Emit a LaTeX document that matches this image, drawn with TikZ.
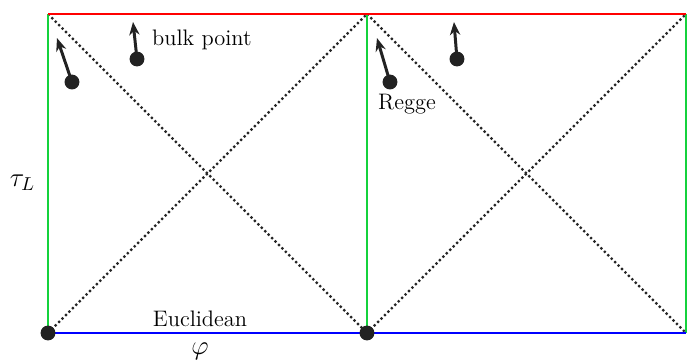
\documentclass[tikz,border=0pt]{standalone}
\usepackage{xcolor}
\usepackage{amsmath}
\usepackage{tikz}
\usetikzlibrary{arrows.meta, positioning, calc}

\definecolor{edgegreen}{RGB}{20,210,60}
\definecolor{dotgray}{RGB}{34,34,34}

\begin{document}
\begin{tikzpicture}[
    >={Stealth[length=7pt, width=5.5pt]},
    bpoint/.style={circle, fill=dotgray, inner sep=0pt, minimum size=0.28cm},
    flow/.style={->, line width=1.6pt, dotgray, shorten <=-2pt},
    lightcone/.style={line width=1.2pt, dash pattern=on 1.2pt off 1.4pt, black!85},
    lbl/.style={font=\large, inner sep=1pt}
]
\useasboundingbox (-0.903,-0.564) rectangle (12.02,6.264);
% corners of the two squares
\coordinate (bl) at (0,0);
\coordinate (bm) at (6,0);
\coordinate (br) at (12,0);
\coordinate (tl) at (0,6);
\coordinate (tm) at (6,6);
\coordinate (tr) at (12,6);
% light cones
\draw[lightcone] (bl) -- (tm);
\draw[lightcone] (tl) -- (bm);
\draw[lightcone] (bm) -- (tr);
\draw[lightcone] (tm) -- (br);
% boundaries
\draw[line width=1.2pt, edgegreen] (bl) -- (tl);
\draw[line width=1.2pt, edgegreen] (bm) -- (tm);
\draw[line width=1.2pt, edgegreen] (br) -- (tr);
\draw[line width=1.2pt, red] (tl) -- (tr);
\draw[line width=1.2pt, blue] (bl) -- (br);
% points
\node[bpoint] (e1) at (bl) {};
\node[bpoint] (e2) at (bm) {};
\node[bpoint] (p1) at (1.674,5.154) {};
\node[bpoint] (p2) at (0.451,4.721) {};
\node[bpoint] (p3) at (6.433,4.721) {};
\node[bpoint] (p4) at (7.693,5.154) {};
\coordinate (t1) at (1.599,5.85);
\coordinate (t2) at (0.169,5.549);
\coordinate (t3) at (6.188,5.549);
\coordinate (t4) at (7.637,5.85);
\foreach \p in {1,2,3,4} {
    \draw[flow] (p\p.center) -- (t\p);
}
% labels
\node[lbl, anchor=west] (bulk) at (1.918,5.511) {bulk point};
\node[lbl] (regge) at (6.752,4.307) {Regge};
\node[lbl] (eucl) at (2.859,0.263) {Euclidean};
\node[lbl, font=\Large] (phi) at (2.859,-0.35) {$\varphi$};
\node[lbl, font=\Large] (tau) at (-0.48,2.821) {$\tau_L$};
\end{tikzpicture}
\end{document}
